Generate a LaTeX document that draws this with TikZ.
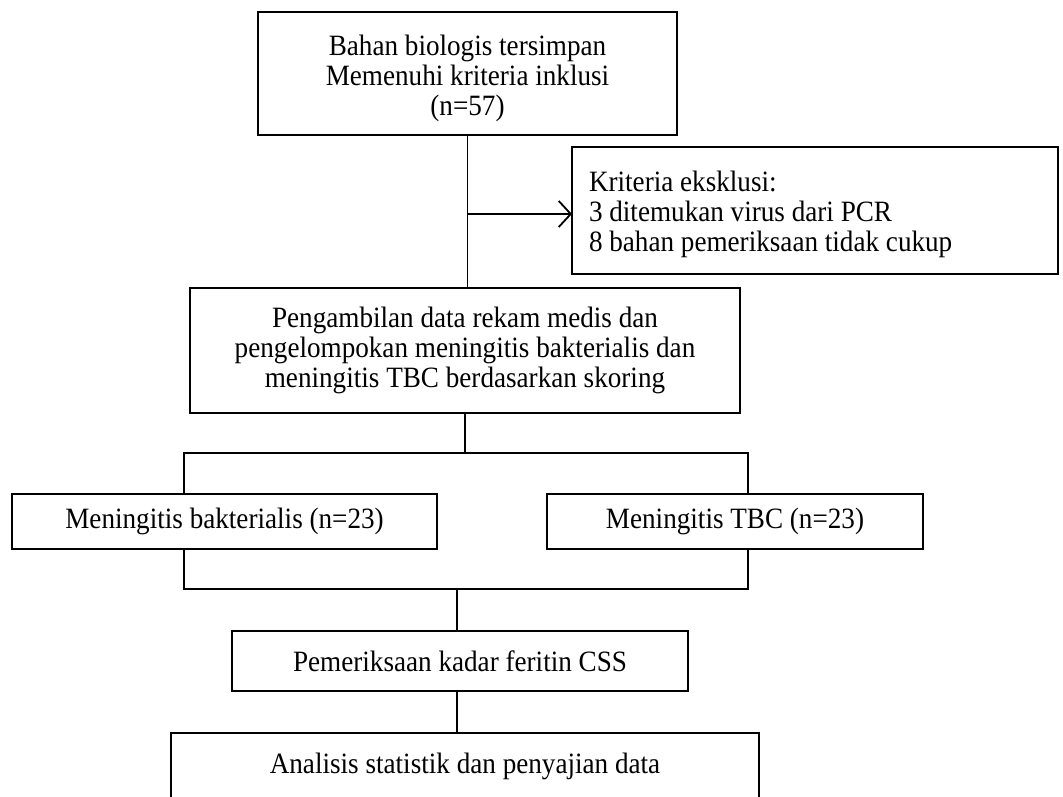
\documentclass[tikz,border=0pt]{standalone}
\usepackage{fontspec}
\setmainfont{Liberation Serif}[FakeStretch=0.92]
\usetikzlibrary{arrows.meta}
\begin{document}
\begin{tikzpicture}[x=1pt,y=-1pt,
  box/.style={draw, line width=2pt, inner sep=0pt, outer sep=0pt, align=center,
    font=\fontsize{29.5}{30}\selectfont},
  conn/.style={line width=1.8pt},
  arr/.style={line width=1.8pt, -{Straight Barb[length=12pt,width=26pt,line width=1.8pt]}}]
\useasboundingbox (0,0) rectangle (1063,797);
\clip (0,0) rectangle (1063,797);
\fill[white] (0,0) rectangle (1063,797);
\node[box, minimum width=419pt, minimum height=123pt] (b1) at (467.5,73.5)
  {\rule{0pt}{30pt}Bahan biologis tersimpan\\Memenuhi kriteria inklusi\\(n=57)};
\node[box, minimum width=486pt, minimum height=127pt, text width=452pt, align=flush left] (ex) at (815,210.5)
  {\rule{0pt}{28pt}Kriteria eksklusi:\\3 ditemukan virus dari PCR\\8 bahan pemeriksaan tidak cukup};
\node[box, minimum width=550pt, minimum height=125pt] (b2) at (465,350.5)
  {Pengambilan data rekam medis dan\\pengelompokan meningitis bakterialis dan\\meningitis TBC berdasarkan skoring};
\node[box, minimum width=425pt, minimum height=55pt] (L) at (224.5,521.5)
  {Meningitis bakterialis (n=23)};
\node[box, minimum width=376pt, minimum height=55pt] (R) at (735,521.5)
  {Meningitis TBC (n=23)};
\node[box, minimum width=456pt, minimum height=60pt] (P) at (460,661)
  {Pemeriksaan kadar feritin CSS};
\node[box, minimum width=588pt, minimum height=67pt] (A) at (465,766.5)
  {Analisis statistik dan penyajian data};
% connectors
\draw[conn] (b1.south) -- (b1.south |- b2.north);
\coordinate (j1) at (b1.south |- 0,214);
\draw[arr] (j1) -- (j1 -| ex.west);
\coordinate (bl) at (184,453);
\coordinate (brr) at (748,453);
\draw[conn] (b2.south) -- (b2.south |- bl);
\draw[conn] (bl |- L.north) -- (bl) -- (brr) -- (brr |- R.north);
\coordinate (cl) at (184,589);
\coordinate (cr) at (748,589);
\coordinate (cm) at (457,589);
\draw[conn] (cl |- L.south) -- (cl) -- (cr) -- (cr |- R.south);
\draw[conn] (cm) -- (cm |- P.north);
\draw[conn] (cm |- P.south) -- (cm |- A.north);
\end{tikzpicture}
\end{document}
